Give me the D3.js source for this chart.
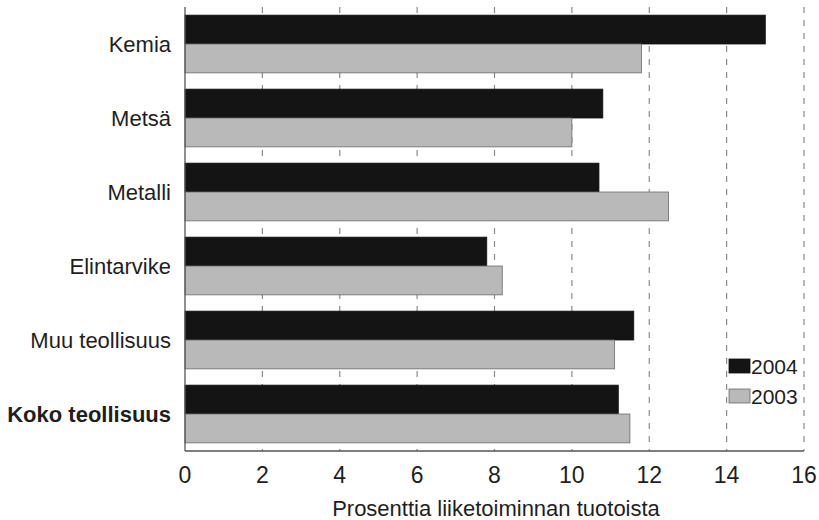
<!DOCTYPE html>
<html>
<head>
<meta charset="utf-8">
<script src="https://cdn.jsdelivr.net/npm/d3@7"></script>
<style>
  body { margin: 0; background: #fff; }
  text { font-family: "Liberation Sans", Arial, sans-serif; fill: #1e1e1e; }
</style>
</head>
<body>
<svg id="chart" width="819" height="520"></svg>
<script>
// data
const categories = ['Kemia', 'Metsä', 'Metalli', 'Elintarvike', 'Muu teollisuus', 'Koko teollisuus'];
const seriesNames = ['2004', '2003'];
const values2004 = [15.0, 10.8, 10.7, 7.8, 11.6, 11.2];
const values2003 = [11.8, 10.0, 12.5, 8.2, 11.1, 11.5];
const xTicks = [0, 2, 4, 6, 8, 10, 12, 14, 16];
const xTitle = 'Prosenttia liiketoiminnan tuotoista';

const colors = { '2004': '#141414', '2003': '#b9b9b9' };

const svg = d3.select('#chart');
const mLeft = 185, mRight = 804, mTop = 7, mBottom = 451;

const x = d3.scaleLinear().domain([0, 16]).range([mLeft, mRight]);
const y = d3.scaleBand().domain(categories).range([mTop, mBottom])
  .paddingInner(0.22).paddingOuter(0.11);
const ySub = d3.scaleBand().domain(seriesNames).range([0, y.bandwidth()]);

const rows = categories.map((c, i) => ({ cat: c, '2004': values2004[i], '2003': values2003[i] }));

// dashed grid
svg.append('g')
  .selectAll('line')
  .data(xTicks.slice(1))
  .enter().append('line')
  .attr('x1', d => x(d)).attr('x2', d => x(d))
  .attr('y1', mTop).attr('y2', mBottom)
  .attr('stroke', '#8a8a8a').attr('stroke-width', 1.2)
  .attr('stroke-dasharray', '6,7');

// bars
const groups = svg.append('g').selectAll('g')
  .data(rows).enter().append('g')
  .attr('transform', d => `translate(0,${y(d.cat)})`);

groups.selectAll('rect')
  .data(d => seriesNames.map(s => ({ s: s, v: d[s] })))
  .enter().append('rect')
  .attr('x', x(0))
  .attr('y', d => ySub(d.s))
  .attr('width', d => x(d.v) - x(0))
  .attr('height', ySub.bandwidth())
  .attr('fill', d => colors[d.s])
  .attr('stroke', d => d.s === '2003' ? '#6a6a6a' : '#111')
  .attr('stroke-width', 0.8);

// axes lines
svg.append('line')
  .attr('x1', mLeft).attr('x2', mLeft).attr('y1', mTop).attr('y2', mBottom)
  .attr('stroke', '#555').attr('stroke-width', 1.3);
svg.append('line')
  .attr('x1', mLeft).attr('x2', mRight).attr('y1', mBottom).attr('y2', mBottom)
  .attr('stroke', '#555').attr('stroke-width', 1.3);

// tick labels
svg.append('g').selectAll('text')
  .data(xTicks).enter().append('text')
  .attr('x', d => x(d)).attr('y', 483)
  .attr('text-anchor', 'middle')
  .style('font-size', '23px')
  .text(d => d);

svg.append('text')
  .attr('x', 496).attr('y', 516)
  .attr('text-anchor', 'middle')
  .style('font-size', '22px')
  .text(xTitle);

// category labels
svg.append('g').selectAll('text')
  .data(categories).enter().append('text')
  .attr('x', 171)
  .attr('y', d => y(d) + y.bandwidth() / 2)
  .attr('dy', '0.35em')
  .attr('text-anchor', 'end')
  .style('font-size', '22px')
  .style('font-weight', (d, i) => i === categories.length - 1 ? 'bold' : 'normal')
  .text(d => d);

// legend
const legend = svg.append('g').selectAll('g')
  .data(seriesNames).enter().append('g')
  .attr('transform', (d, i) => `translate(729,${359 + i * 30})`);
legend.append('rect')
  .attr('width', 21).attr('height', 14)
  .attr('fill', d => colors[d])
  .attr('stroke', d => d === '2003' ? '#6a6a6a' : '#111').attr('stroke-width', 0.8);
legend.append('text')
  .attr('x', 22).attr('y', 7).attr('dy', '0.36em')
  .style('font-size', '21px')
  .text(d => d);
</script>
</body>
</html>
